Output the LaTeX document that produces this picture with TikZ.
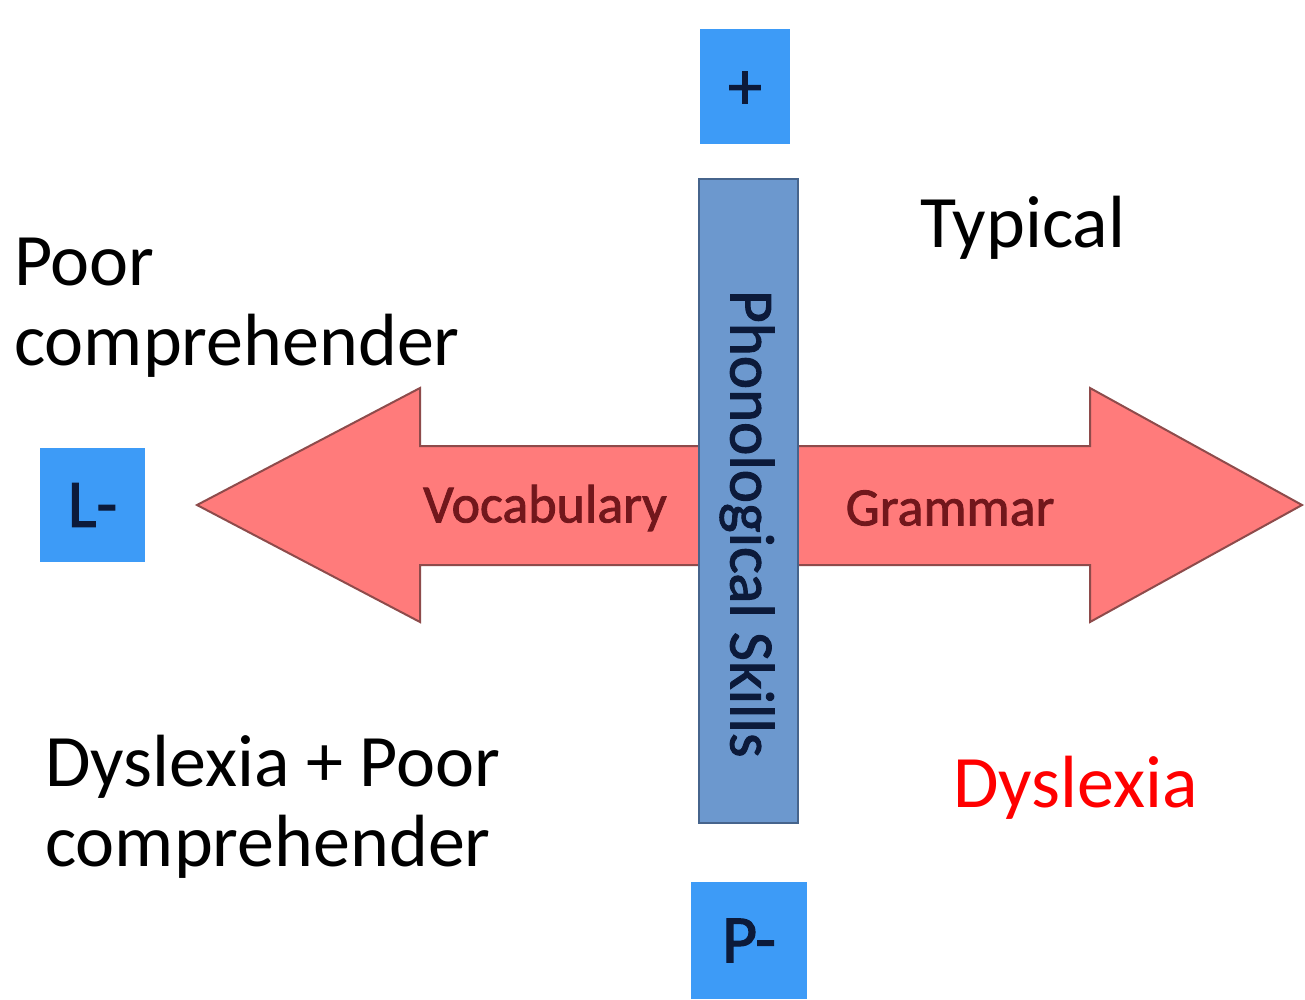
\documentclass[tikz,border=0pt]{standalone}
\usepackage{fontspec}
\setmainfont{Carlito}
\newfontfamily\semibold[FakeBold=1.6]{Carlito}
\definecolor{boxblue}{HTML}{3D9BF7}
\definecolor{barblue}{HTML}{6C98CE}
\definecolor{baredge}{HTML}{46648C}
\definecolor{arrowred}{HTML}{FF7B7B}
\definecolor{arrowedge}{HTML}{8E4B4B}
\definecolor{labred}{HTML}{72171C}
\definecolor{navy}{HTML}{0C1A3A}
\begin{document}
\begin{tikzpicture}[x=1pt,y=-1pt,
  bluebox/.style={fill=boxblue, draw=none, inner sep=0pt, text=navy,
    font=\semibold\fontsize{68}{68}\selectfont},
  bigtext/.style={inner sep=0pt, anchor=north west, align=left,
    font=\fontsize{74}{80}\selectfont},
  arrowlabel/.style={inner sep=0pt, text=labred, font=\semibold\fontsize{54}{54}\selectfont}]
\useasboundingbox (0,0) rectangle (1305,999);
\fill[white] (0,0) rectangle (1305,999);
% double arrow
\path[draw=arrowedge, line width=2pt, fill=arrowred, line join=miter]
  (197,505) -- (420,388) -- (420,446) -- (1090,446) -- (1090,388)
  -- (1302,505) -- (1090,622) -- (1090,565) -- (420,565) -- (420,622) -- cycle;
\node[arrowlabel] (voc) at (545,508) {Vocabulary};
\node[arrowlabel] (gram) at (950,508) {Grammar};
% phonological bar
\node[fill=barblue, draw=baredge, line width=2pt, minimum width=99pt,
  minimum height=644pt, inner sep=0pt] (bar) at (748,500.5) {};
\node[rotate=-90, inner sep=0pt, text=navy, font=\semibold\fontsize{63}{63}\selectfont]
  (phon) at (747,524) {Phonological Skills};
% blue boxes
\node[bluebox, minimum width=90pt, minimum height=115pt, text height=46pt,
  text depth=0pt] (plus) at (745,86) {+};
\node[bluebox, minimum width=105pt, minimum height=114pt] (lminus) at (92.5,505) {L-};
\node[bluebox, minimum width=116pt, minimum height=117pt] (pminus) at (749,940.5) {P-};
% quadrant texts
\node[bigtext] (poor) at (14,238) {Poor\\comprehender};
\node[bigtext] (typ) at (920,196) {Typical};
\node[bigtext] (dyspoor) at (45,735) {Dyslexia + Poor\\comprehender};
\node[bigtext, text=red] (dys) at (953,756) {Dyslexia};
\end{tikzpicture}
\end{document}
